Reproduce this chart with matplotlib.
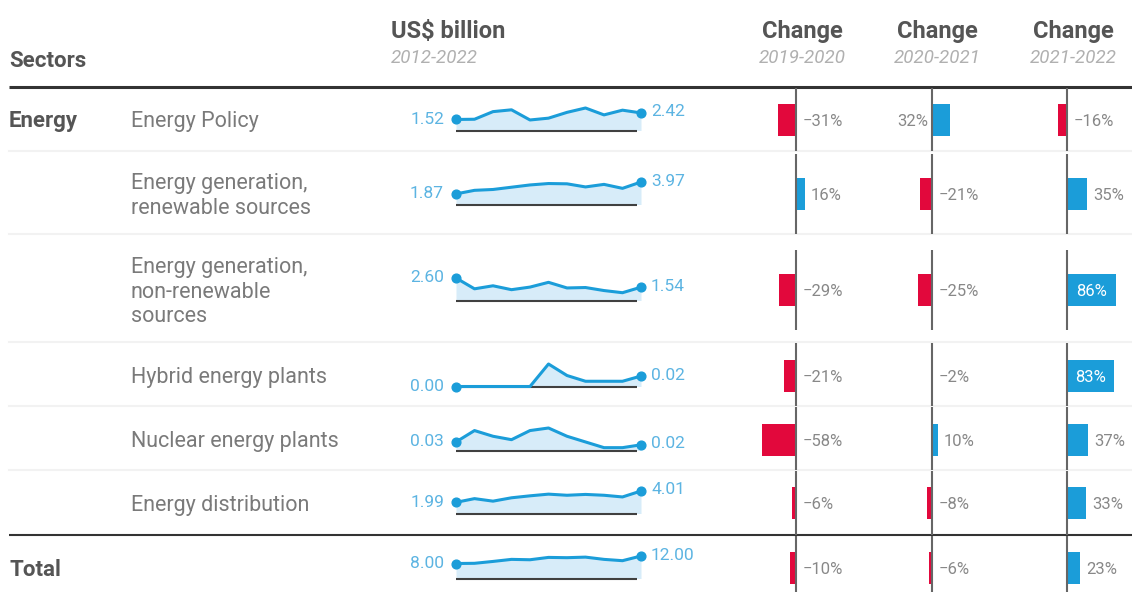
import numpy as np
import matplotlib
matplotlib.use("Agg")
import matplotlib.pyplot as plt

plt.rcParams['font.family'] = ['Roboto', 'DejaVu Sans']

years = np.arange(2012, 2023)

sectors = ["Energy", "", "", "", "", "", "Total"]
subsectors = ["Energy Policy",
              "Energy generation,\nrenewable sources",
              "Energy generation,\nnon-renewable\nsources",
              "Hybrid energy plants",
              "Nuclear energy plants",
              "Energy distribution",
              ""]

# US$ billion, 2012-2022
energy_policy = [1.52, 1.55, 2.60, 2.85, 1.45, 1.70, 2.50, 3.10, 2.15, 2.80, 2.42]
gen_renewable = [1.87, 2.50, 2.65, 3.05, 3.45, 3.70, 3.65, 3.10, 3.55, 2.85, 3.97]
gen_nonrenewable = [2.60, 1.35, 1.70, 1.25, 1.55, 2.10, 1.45, 1.50, 1.15, 0.90, 1.54]
hybrid_plants = [0.00, 0.00, 0.00, 0.00, 0.00, 0.043, 0.021, 0.010, 0.010, 0.010, 0.02]
nuclear_plants = [0.030, 0.070, 0.050, 0.038, 0.070, 0.079, 0.050, 0.030, 0.010, 0.010, 0.020]
distribution = [1.99, 2.65, 2.20, 2.80, 3.15, 3.45, 3.25, 3.40, 3.25, 2.95, 4.01]
total = [8.00, 8.10, 9.10, 10.20, 10.00, 11.25, 11.10, 11.40, 10.20, 9.50, 12.00]
series = [energy_policy, gen_renewable, gen_nonrenewable, hybrid_plants,
          nuclear_plants, distribution, total]

# percent change
change_periods = ["2019-2020", "2020-2021", "2021-2022"]
chg_1920 = [-31, 16, -29, -21, -58, -6, -10]
chg_2021 = [32, -21, -25, -2, 10, -8, -6]
chg_2122 = [-16, 35, 86, 83, 37, 33, 23]
changes = [chg_1920, chg_2021, chg_2122]

# ---- layout (pixels) ----
W, H = 1132, 592
row_centers = [120, 194, 290, 376, 440, 503, 568]
row_edges = [87, 151, 234, 342, 406, 470, 535, 600]
zero_x = [795.5, 932, 1067]
head_x = [802, 937, 1073]
PX_PER_PCT = 0.57
spark_x0, spark_x1 = 456, 641

RED = '#e2083c'
BLUE = '#1b9dd9'
LIGHTBLUE = '#d7ecf9'
DARK = '#333333'
HEAD = '#555555'
left_labels = {(0, 1)}   # (row, column) labelled on the left of the zero line
inside_min = 60          # bars at least this long carry their label inside

fig = plt.figure(figsize=(W / 100, H / 100), dpi=100)
base = fig.add_axes([0, 0, 1, 1])
base.set_xlim(0, W)
base.set_ylim(H, 0)
base.axis('off')


def px_axes(x0, y0, x1, y1):
    ax = fig.add_axes([x0 / W, 1 - y1 / H, (x1 - x0) / W, (y1 - y0) / H])
    ax.axis('off')
    return ax


# headers
base.text(9, 67, "Sectors", fontsize=16, weight='bold', color=HEAD, va='baseline')
base.text(391, 38, "US$ billion", fontsize=17, weight='bold', color=HEAD, va='baseline')
base.text(391, 63, "2012-2022", fontsize=13.5, style='italic',
          color='#b0b0b0', va='baseline')
for hx, period in zip(head_x, change_periods):
    base.text(hx, 38, "Change", fontsize=17, weight='bold', color=HEAD,
              ha='center', va='baseline')
    base.text(hx, 63, period, fontsize=13.5, style='italic',
              color='#b0b0b0', ha='center', va='baseline')

# rules
base.plot([9, W], [87, 87], color=DARK, lw=2.2, solid_capstyle='butt')
for y in row_edges[1:6]:
    base.plot([9, W], [y, y], color='#f2f2f2', lw=1.5)
base.plot([9, W], [535, 535], color=DARK, lw=1.5, solid_capstyle='butt')

# row labels (va='baseline' pins the last line of a multi-line label)
for c, sec, sub in zip(row_centers, sectors, subsectors):
    if sec:
        base.text(9, c + 7.5, sec, fontsize=16, weight='bold', color=HEAD,
                  va='baseline')
    if sub:
        n = sub.count('\n') + 1
        base.text(131, c + (n - 1) * 12.5 + 7.5, sub, fontsize=15.5,
                  color='#7a7a7a', va='baseline', linespacing=1.25)

# sparklines
for c, vals in zip(row_centers, series):
    ax = px_axes(spark_x0, c + 10.5 - 22.5, spark_x1, c + 10.5)
    ax.set_xlim(years[0], years[-1])
    ax.set_ylim(0, max(vals))
    ax.fill_between(years, vals, 0, color=LIGHTBLUE, lw=0)
    ax.plot([years[0], years[-1] - 0.2], [0, 0], color='#404040', lw=1.5,
            solid_capstyle='butt', clip_on=False)
    ax.plot(years, vals, color=BLUE, lw=2.2, clip_on=False)
    ax.plot([years[0], years[-1]], [vals[0], vals[-1]], 'o', ms=6.3, color=BLUE,
            clip_on=False)
    ax.annotate(f"{vals[0]:.2f}", xy=(years[0], vals[0]), xytext=(-12, -4.5),
                textcoords='offset pixels', ha='right', va='baseline',
                fontsize=12.5, color='#5cb4e2', annotation_clip=False)
    ax.annotate(f"{vals[-1]:.2f}", xy=(years[-1], vals[-1]), xytext=(10, -3.5),
                textcoords='offset pixels', ha='left', va='baseline',
                fontsize=12.5, color='#5cb4e2', annotation_clip=False)

# change columns
for j, (zx, vals) in enumerate(zip(zero_x, changes)):
    ax = px_axes(zx - 90, 0, zx + 90, H)
    ax.set_xlim(-90 / PX_PER_PCT, 90 / PX_PER_PCT)
    ax.set_ylim(H, 0)
    ax.barh(row_centers, vals, height=32,
            color=[RED if v < 0 else BLUE for v in vals], zorder=2)
    for i, (c, v) in enumerate(zip(row_centers, vals)):
        top = max(row_edges[i] + 1, c - 40)
        bot = min(row_edges[i + 1], c + 40)
        ax.plot([0, 0], [top, bot], color='#666666', lw=1.5, zorder=3,
                solid_capstyle='butt')
        label = f"{v}%".replace('-', '\u2212')
        style = dict(textcoords='offset pixels', va='baseline', fontsize=12,
                     color='#888888', zorder=4)
        if abs(v) >= inside_min:
            style['color'] = 'white'
            ax.annotate(label, xy=(v / 2, c), xytext=(0, -6), ha='center', **style)
        elif (i, j) in left_labels:
            ax.annotate(label, xy=(0, c), xytext=(-4, -6), ha='right', **style)
        elif v < 0:
            ax.annotate(label, xy=(0, c), xytext=(7, -6), ha='left', **style)
        else:
            ax.annotate(label, xy=(v, c), xytext=(6, -6), ha='left', **style)

fig.savefig("out.png", dpi=100)
